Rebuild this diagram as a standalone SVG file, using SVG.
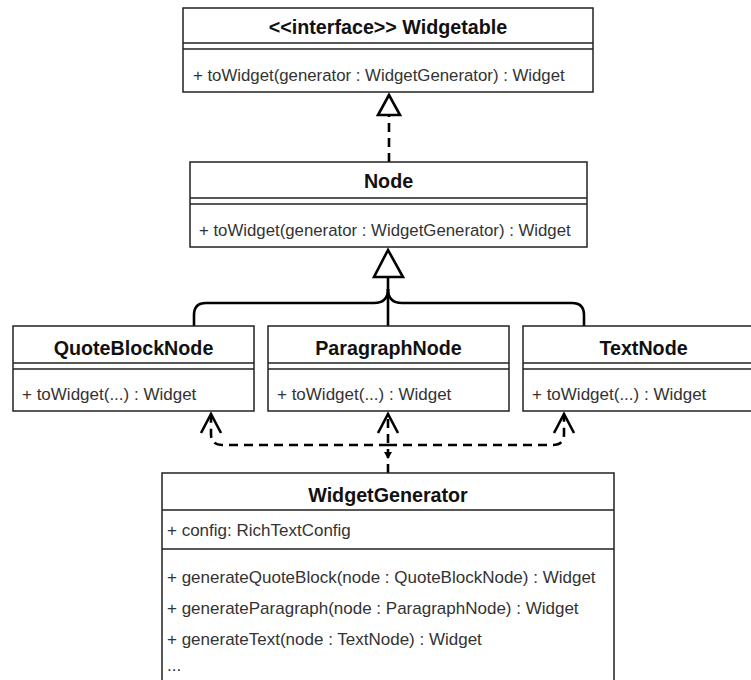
<svg xmlns="http://www.w3.org/2000/svg" width="751" height="680" viewBox="0 0 751 680">
<style>
.box{fill:#fff;stroke:#222;stroke-width:1.5}
.sep{stroke:#222;stroke-width:1.5;fill:none}
.hd{font-family:"Liberation Sans",Arial,Helvetica,sans-serif;font-weight:bold;font-size:19.7px;fill:#111;text-anchor:middle}
.tx{font-family:"Liberation Sans",Arial,Helvetica,sans-serif;font-size:17px;fill:#333}
.tl{font-size:16.8px}
.edge{fill:none;stroke:#000;stroke-width:2.6}
.dash{stroke-dasharray:9 6}
.tri{fill:#fff;stroke:#000;stroke-width:2.6;stroke-linejoin:miter}
.open{fill:none;stroke:#000;stroke-width:2.6;stroke-linejoin:miter}
</style>
<rect width="751" height="680" fill="#fff"/>
<g id="connectors">
  <path class="edge dash" d="M389,162 V115"/>
  <polygon class="tri" points="389,95 378,115 400,115"/>
  <path class="edge" d="M388,277 V326"/>
  <path class="edge" d="M388,289 Q388,303 374,303 H206 Q194,303 194,315 V326"/>
  <path class="edge" d="M388,289 Q388,303 402,303 H572 Q584,303 584,315 V326"/>
  <polygon class="tri" points="388,250 374,277 403,277"/>
  <path class="edge dash" d="M388,473 V415"/>
  <path class="edge dash" d="M388,445 H222 Q211,445 211,434 V415"/>
  <path class="edge dash" d="M388,445 H553 Q564,445 564,434 V415"/>
  <polygon points="384,452 392,452 388,459" fill="#000"/>
  <polyline class="open" points="201,433 211,414 221,433"/>
  <polyline class="open" points="378,433 388,414 398,433"/>
  <polyline class="open" points="554,433 564,414 574,433"/>
</g>
<g id="widgetable">
  <rect class="box" x="183" y="8" width="410" height="84"/>
  <path class="sep" d="M183,43 H593 M183,49 H593"/>
  <text class="hd" x="388" y="34">&lt;&lt;interface&gt;&gt; Widgetable</text>
  <text class="tx tl" x="193" y="81">+ toWidget(generator : WidgetGenerator) : Widget</text>
</g>
<g id="node">
  <rect class="box" x="190" y="162" width="397" height="85"/>
  <path class="sep" d="M190,198 H587 M190,204 H587"/>
  <text class="hd" x="388.5" y="188">Node</text>
  <text class="tx tl" x="199" y="236">+ toWidget(generator : WidgetGenerator) : Widget</text>
</g>
<g id="quoteblocknode">
  <rect class="box" x="13" y="326" width="241" height="85"/>
  <path class="sep" d="M13,363 H254 M13,369 H254"/>
  <text class="hd" x="133.5" y="355">QuoteBlockNode</text>
  <text class="tx" x="22" y="400">+ toWidget(...) : Widget</text>
</g>
<g id="paragraphnode">
  <rect class="box" x="268" y="326" width="241" height="85"/>
  <path class="sep" d="M268,363 H509 M268,369 H509"/>
  <text class="hd" x="388.5" y="355">ParagraphNode</text>
  <text class="tx" x="277" y="400">+ toWidget(...) : Widget</text>
</g>
<g id="textnode">
  <rect class="box" x="523" y="326" width="241" height="85"/>
  <path class="sep" d="M523,363 H764 M523,369 H764"/>
  <text class="hd" x="643.5" y="355">TextNode</text>
  <text class="tx" x="532" y="400">+ toWidget(...) : Widget</text>
</g>
<g id="widgetgenerator">
  <rect class="box" x="162" y="473" width="452" height="230"/>
  <path class="sep" d="M162,510 H614 M162,549 H614"/>
  <text class="hd" x="388" y="502">WidgetGenerator</text>
  <text class="tx" x="167" y="536">+ config: RichTextConfig</text>
  <text class="tx" x="167" y="583">+ generateQuoteBlock(node : QuoteBlockNode) : Widget</text>
  <text class="tx" x="167" y="614">+ generateParagraph(node : ParagraphNode) : Widget</text>
  <text class="tx" x="167" y="645">+ generateText(node : TextNode) : Widget</text>
  <text class="tx" x="167" y="671">...</text>
</g>
</svg>
